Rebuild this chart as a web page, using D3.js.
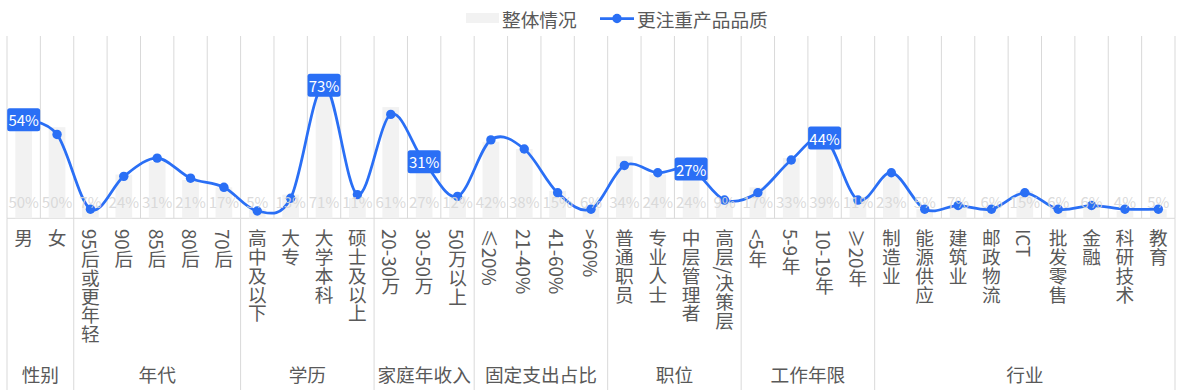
<!DOCTYPE html>
<html>
<head>
<meta charset="utf-8">
<script src="https://cdn.jsdelivr.net/npm/d3@7"></script>
<style>
  html, body { margin: 0; padding: 0; background: #fff; }
  svg { display: block; font-family: "Microsoft YaHei", "Noto Sans CJK SC", sans-serif; }
</style>
</head>
<body>
<svg id="chart" width="1182" height="392"></svg>
<script>
const categories = ["男","女","95后或更年轻","90后","85后","80后","70后","高中及以下","大专","大学本科","硕士及以上","20-30万","30-50万","50万以上","≤20%","21-40%","41-60%",">60%","普通职员","专业人士","中层管理者","高层/决策层","<5年","5-9年","10-19年","≥20年","制造业","能源供应","建筑业","邮政物流","ICT","批发零售","金融","科研技术","教育"];
const groupNames = ["性别","年代","学历","家庭年收入","固定支出占比","职位","工作年限","行业"];
const groupSizes = [2,5,4,3,4,4,4,9];
const overall = [50,50,7,24,31,21,17,5,13,71,11,61,27,12,42,38,15,6,34,24,24,9,17,33,39,11,23,5,7,6,15,6,6,4,5];
const quality = [54,46,5,23,33,22,17,4,11,73,13,57,31,12,43,38,14,5,29,25,27,10,14,32,44,10,25,5,7,5,14,5,7,5,5];
const highlighted = [0,9,12,20,24];
const seriesNames = ["整体情况","更注重产品品质"];
const yTicks = [0,100];

(function () {
const svg = d3.select("#chart");
const pLeft = 7, pRight = 1175, pTop = 36, pBase = 218.3;
const blue = "#2a6ff5", grid = "#d9d9d9", txt = "#595959";

const x = d3.scaleBand().domain(d3.range(categories.length)).range([pLeft, pRight]).paddingInner(0).paddingOuter(0);
const y = d3.scaleLinear().domain([yTicks[0], yTicks[1]]).range([pBase, pTop]);
const bw = x.bandwidth();

// vertical gridlines at category boundaries in plot
const bounds = d3.range(categories.length + 1).map(i => pLeft + i * bw);
svg.append("g").selectAll("line").data(bounds).join("line")
  .attr("x1", d => d).attr("x2", d => d)
  .attr("y1", pTop).attr("y2", pBase)
  .attr("stroke", grid).attr("stroke-width", 1);

// group separators below axis
let cum = [0];
groupSizes.forEach(s => cum.push(cum[cum.length - 1] + s));
svg.append("g").selectAll("line").data(cum).join("line")
  .attr("x1", d => pLeft + d * bw).attr("x2", d => pLeft + d * bw)
  .attr("y1", pBase).attr("y2", 390)
  .attr("stroke", grid).attr("stroke-width", 1);

// x axis line
svg.append("line").attr("x1", pLeft).attr("x2", pRight).attr("y1", pBase).attr("y2", pBase)
  .attr("stroke", grid).attr("stroke-width", 1);

// bars
svg.append("g").selectAll("rect").data(overall).join("rect")
  .attr("x", (d, i) => x(i) + bw * 0.25)
  .attr("width", bw * 0.5)
  .attr("y", d => y(d))
  .attr("height", d => y(0) - y(d))
  .attr("fill", "#f2f2f2");

// line
const line = d3.line()
  .x((d, i) => x(i) + bw / 2)
  .y(d => y(d))
  .curve(d3.curveCardinal.tension(0));
svg.append("path").datum(quality)
  .attr("d", line)
  .attr("fill", "none").attr("stroke", blue).attr("stroke-width", 2.75)
  .attr("stroke-linejoin", "round");
svg.append("g").selectAll("circle").data(quality).join("circle")
  .attr("cx", (d, i) => x(i) + bw / 2)
  .attr("cy", d => y(d))
  .attr("r", 4.7)
  .attr("fill", blue);

// bar labels (inside base)
svg.append("g").selectAll("text").data(overall).join("text")
  .attr("x", (d, i) => x(i) + bw / 2)
  .attr("y", y(0) - 17)
  .attr("text-anchor", "middle")
  .attr("dominant-baseline", "central")
  .attr("font-size", 15)
  .attr("fill", "#d6d6d6")
  .attr("fill-opacity", 0.9)
  .text(d => d + "%");

// highlighted line labels
const hl = svg.append("g").selectAll("g").data(highlighted).join("g")
  .attr("transform", i => `translate(${x(i) + bw / 2},${y(quality[i])})`);
hl.append("rect")
  .attr("x", -16.5).attr("y", -11.5).attr("width", 33).attr("height", 23)
  .attr("rx", 2.5).attr("fill", blue);
hl.append("text")
  .attr("text-anchor", "middle").attr("dominant-baseline", "central")
  .attr("font-size", 15).attr("fill", "#fff")
  .text(i => quality[i] + "%");

// category labels (vertical)
svg.append("g").selectAll("text").data(categories).join("text")
  .attr("x", (d, i) => x(i) + bw / 2)
  .attr("y", 229)
  .attr("font-size", 18.7)
  .attr("fill", txt)
  .style("writing-mode", "vertical-rl")
  .style("text-orientation", "mixed")
  .text(d => d);

// group labels
svg.append("g").selectAll("text").data(groupNames).join("text")
  .attr("x", (d, i) => pLeft + (cum[i] + groupSizes[i] / 2) * bw)
  .attr("y", 373)
  .attr("text-anchor", "middle").attr("dominant-baseline", "central")
  .attr("font-size", 18.7).attr("fill", txt)
  .text(d => d);

// legend
const lg = svg.append("g");
lg.append("rect").attr("x", 466).attr("y", 13).attr("width", 33).attr("height", 10).attr("fill", "#f2f2f2");
lg.append("text").attr("x", 502).attr("y", 18.5).attr("dominant-baseline", "central")
  .attr("font-size", 18.7).attr("fill", txt).text(seriesNames[0]);
lg.append("line").attr("x1", 600).attr("x2", 634).attr("y1", 18.5).attr("y2", 18.5)
  .attr("stroke", blue).attr("stroke-width", 2.75);
lg.append("circle").attr("cx", 617).attr("cy", 18.5).attr("r", 4.7).attr("fill", blue);
lg.append("text").attr("x", 637).attr("y", 18.5).attr("dominant-baseline", "central")
  .attr("font-size", 18.7).attr("fill", txt).text(seriesNames[1]);
})();
</script>
</body>
</html>
